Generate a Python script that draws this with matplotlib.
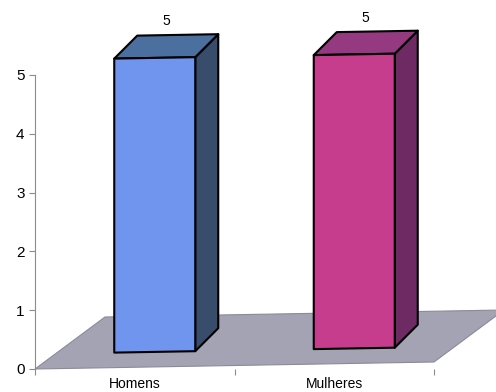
import numpy as np
import matplotlib
matplotlib.use("Agg")
import matplotlib.pyplot as plt
from matplotlib.patches import Polygon

# data
categories = ["Homens", "Mulheres"]
values = [5, 5]
front_colors = ["#6f95ee", "#c63d8e"]
side_colors = ["#384c6c", "#6e2a62"]
top_colors = ["#4b6f9e", "#953a80"]

plt.rcParams['font.family'] = ['Liberation Sans', 'DejaVu Sans']

fig = plt.figure(figsize=(4.96, 3.92), dpi=100)
ax = fig.add_axes([35 / 496, 23 / 392, 399 / 496, 294 / 392])
ax.set_xlim(-0.5, 1.5)
ax.set_ylim(0, 5)

# pixel -> data units
ux = 2 / 399
uy = 5 / 294

# 3d look: floor depth, tilt, bar placement in depth
floor_dx, floor_dy = 70 * ux, 52 * uy
tilt = 7 * uy
bar_w = 81 * ux
front_dx, front_dy = 20 * ux, 15 * uy
depth_dx, depth_dy = 23 * ux, 23 * uy


def lift(x):
    return tilt * (x + 0.5) / 2


# floor
fl = [(-0.5, 0), (1.5, lift(1.5)),
      (1.5 + floor_dx, lift(1.5) + floor_dy), (-0.5 + floor_dx, floor_dy)]
ax.add_patch(Polygon(fl, closed=True, facecolor="#a3a3b4", edgecolor="#8a8a98",
                     lw=0.8, clip_on=False, zorder=1))

for i, v in enumerate(values):
    x0 = i - bar_w / 2 + front_dx
    x1 = x0 + bar_w
    b0 = lift(x0) + front_dy
    b1 = lift(x1) + front_dy
    t0, t1 = b0 + v, b1 + v
    front = [(x0, b0), (x1, b1), (x1, t1), (x0, t0)]
    side = [(x1, b1), (x1 + depth_dx, b1 + depth_dy),
            (x1 + depth_dx, t1 + depth_dy), (x1, t1)]
    top = [(x0, t0), (x1, t1), (x1 + depth_dx, t1 + depth_dy), (x0 + depth_dx, t0 + depth_dy)]
    for pts, c in [(side, side_colors[i]), (top, top_colors[i]), (front, front_colors[i])]:
        ax.add_patch(Polygon(pts, closed=True, facecolor=c, edgecolor="black",
                             lw=1.5, joinstyle="round", clip_on=False, zorder=3))
    ax.annotate(str(v), ((x0 + x1) / 2 + depth_dx / 2, (t0 + t1) / 2 + depth_dy / 2),
                xytext=(0, 13), textcoords="offset points", ha="center",
                va="bottom", fontsize=10, annotation_clip=False)

for s in ["top", "right"]:
    ax.spines[s].set_visible(False)
ax.spines["left"].set_color("#8c8c8c")
ax.spines["bottom"].set_visible(False)

ax.set_yticks(range(0, 6))
ax.tick_params(axis="y", colors="#8c8c8c", labelcolor="black", labelsize=11, length=4)
ax.set_xticks([-0.5, 0.5, 1.5])
ax.set_xticklabels([])
ax.set_xticks([0, 1], minor=True)
ax.set_xticklabels(categories, minor=True)
ax.tick_params(axis="x", which="major", colors="#8c8c8c", length=4)
ax.tick_params(axis="x", which="minor", length=0, labelsize=10, pad=6)

fig.savefig("out.png", dpi=100)
